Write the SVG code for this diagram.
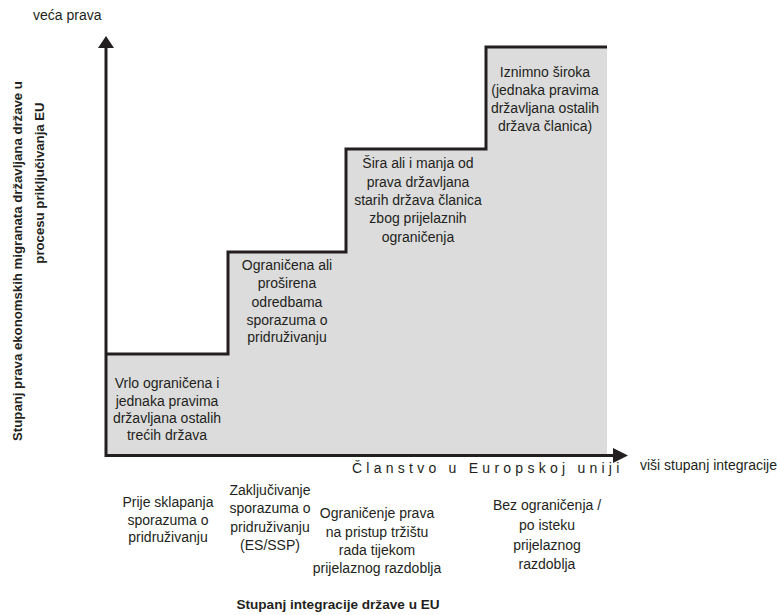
<svg xmlns="http://www.w3.org/2000/svg" width="777" height="615" viewBox="0 0 777 615">
<style>
text{font-family:"Liberation Sans",Arial,sans-serif;font-size:14px;fill:#231f20}
.c{text-anchor:middle}
.b{font-weight:bold;font-size:13.2px}
.ax{stroke:#231f20;stroke-width:3;fill:none}
.ah{fill:#231f20}
</style>
<rect width="777" height="615" fill="#fff"/>
<g id="area">
<path d="M106,354 H228 V252 H346 V149 H486 V47 H607 V456 H106 Z" fill="#dcdcdc"/>
<path d="M106,354 H228 V252 H346 V149 H486 V47 H607" class="ax"/>
</g>
<g id="connectors">
<line x1="106" y1="457" x2="106" y2="47" class="ax"/>
<polygon points="106,36 98,48 114,48" class="ah"/>
<line x1="105" y1="455.5" x2="614" y2="455.5" class="ax"/>
<polygon points="628,455.5 613,448 613,463" class="ah"/>
</g>
<g id="step1">
<text class="c" x="167" y="388">Vrlo ograničena i</text>
<text class="c" x="167" y="406">jednaka pravima</text>
<text class="c" x="167" y="423">državljana ostalih</text>
<text class="c" x="167" y="440">trećih država</text>
</g>
<g id="step2">
<text class="c" x="287" y="270">Ograničena ali</text>
<text class="c" x="287" y="288">proširena</text>
<text class="c" x="287" y="307">odredbama</text>
<text class="c" x="287" y="325">sporazuma o</text>
<text class="c" x="287" y="342">pridruživanju</text>
</g>
<g id="step3">
<text class="c" x="418" y="168">Šira ali i manja od</text>
<text class="c" x="418" y="187">prava državljana</text>
<text class="c" x="418" y="205">starih država članica</text>
<text class="c" x="418" y="223">zbog prijelaznih</text>
<text class="c" x="418" y="242">ograničenja</text>
</g>
<g id="step4">
<text class="c" x="545" y="77">Iznimno široka</text>
<text class="c" x="545" y="95">(jednaka pravima</text>
<text class="c" x="545" y="113">državljana ostalih</text>
<text class="c" x="545" y="131">država članica)</text>
</g>
<g id="label-y-top"><text x="33" y="20">veća prava</text></g>
<g id="label-x-right"><text x="640" y="470">viši stupanj integracije</text></g>
<g id="label-membership"><text x="352" y="473" style="letter-spacing:4.25px">Članstvo u Europskoj uniji</text></g>
<g id="label-y-axis">
<text class="b c" transform="translate(22,261) rotate(-90)">Stupanj prava ekonomskih migranata državljana države u</text>
<text class="b c" transform="translate(44,183) rotate(-90)">procesu priključivanja EU</text>
</g>
<g id="phase1">
<text class="c" x="168" y="507">Prije sklapanja</text>
<text class="c" x="168" y="525">sporazuma o</text>
<text class="c" x="168" y="542">pridruživanju</text>
</g>
<g id="phase2">
<text class="c" x="270" y="495">Zaključivanje</text>
<text class="c" x="270" y="513">sporazuma o</text>
<text class="c" x="270" y="532">pridruživanju</text>
<text class="c" x="270" y="550">(ES/SSP)</text>
</g>
<g id="phase3">
<text class="c" x="377" y="518">Ograničenje prava</text>
<text class="c" x="377" y="537">na pristup tržištu</text>
<text class="c" x="377" y="555">rada tijekom</text>
<text class="c" x="377" y="573">prijelaznog razdoblja</text>
</g>
<g id="phase4">
<text class="c" x="547" y="510">Bez ograničenja /</text>
<text class="c" x="547" y="530">po isteku</text>
<text class="c" x="547" y="550">prijelaznog</text>
<text class="c" x="547" y="569">razdoblja</text>
</g>
<g id="label-x-axis"><text class="b c" x="338" y="609" style="font-size:13.6px">Stupanj integracije države u EU</text></g>
</svg>
